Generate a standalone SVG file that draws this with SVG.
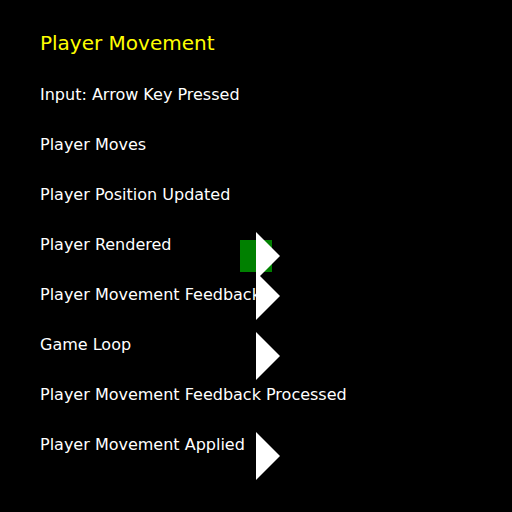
<svg xmlns="http://www.w3.org/2000/svg" width="512" height="512" viewBox="0 0 512 512">
<style>
text{font-family:"DejaVu Sans","Liberation Sans",sans-serif;font-size:16px;fill:#ffffff}
.title{font-size:20px;fill:#ffff00}
.tri{fill:#ffffff}
</style>
<rect width="512" height="512" fill="#000000"/>
<text class="title" x="40" y="50">Player Movement</text>
<g id="labels">
<text x="40" y="100">Input: Arrow Key Pressed</text>
<text x="40" y="150">Player Moves</text>
<text x="40" y="200">Player Position Updated</text>
<text x="40" y="250">Player Rendered</text>
<text x="40" y="300">Player Movement Feedback</text>
<text x="40" y="350">Game Loop</text>
<text x="40" y="400">Player Movement Feedback Processed</text>
<text x="40" y="450">Player Movement Applied</text>
</g>
<rect id="player" x="240" y="240" width="32" height="32" fill="#008000"/>
<g id="arrows">
<polygon class="tri" points="256,232 280,256 256,280"/>
<polygon class="tri" points="256,272 280,296 256,320"/>
<polygon class="tri" points="256,332 280,356 256,380"/>
<polygon class="tri" points="256,432 280,456 256,480"/>
</g>
</svg>
